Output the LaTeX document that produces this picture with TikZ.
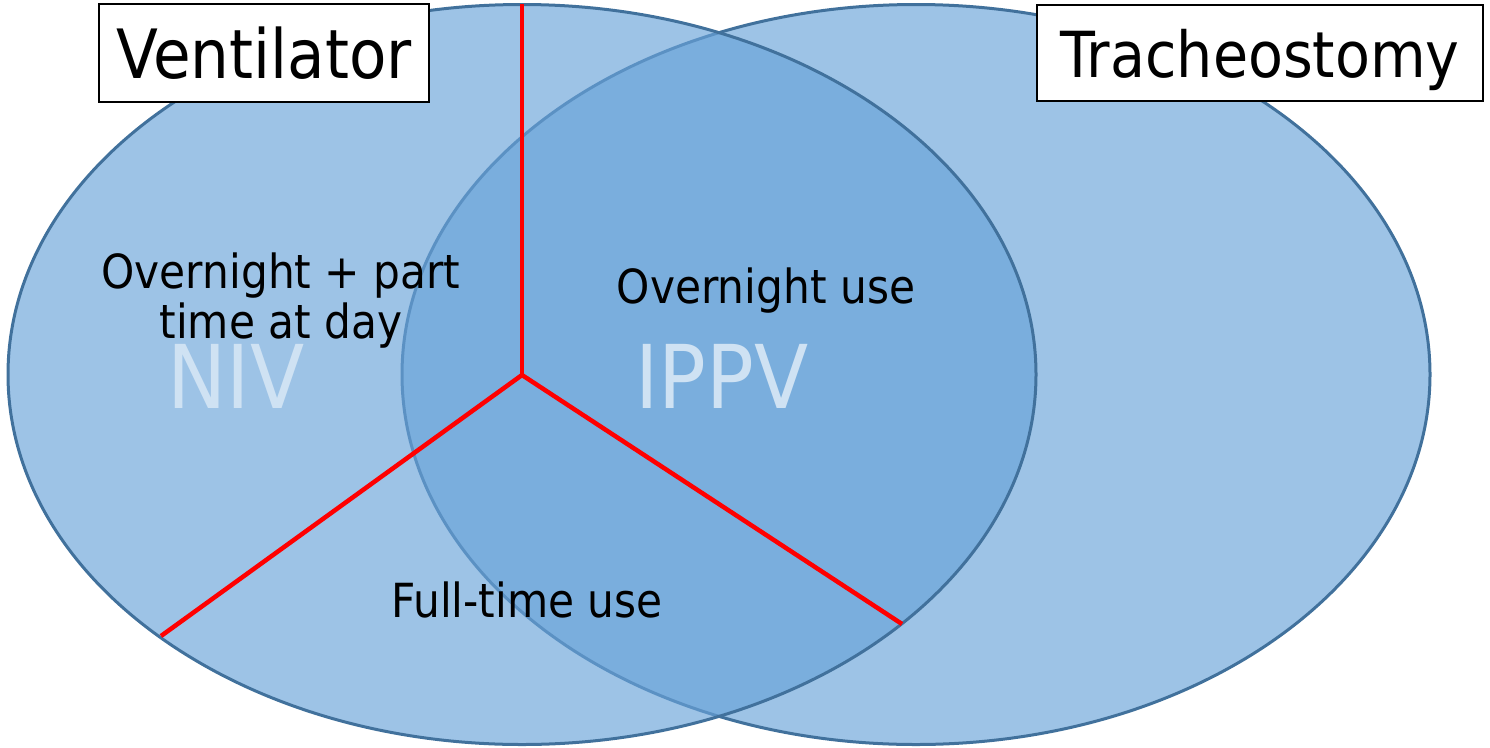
\documentclass[tikz,border=0pt]{standalone}
\usepackage{fontspec}
\setmainfont{DejaVu Sans}[FakeStretch=0.9]
\definecolor{fillA}{RGB}{157,195,230}
\definecolor{fillB}{RGB}{105,163,217}
\definecolor{edge}{RGB}{65,113,156}
\definecolor{ghost}{RGB}{207,226,243}
\tikzset{
  labelbox/.style={draw=black, fill=white, line width=1.5pt, inner sep=0pt, text depth=0pt, font=\fontsize{68}{68}\selectfont},
  bigghost/.style={text=ghost, inner sep=0pt, anchor=base, font=\fontsize{88}{88}\selectfont},
  zonetext/.style={text=black, inner sep=0pt, anchor=base, align=center, font=\fontsize{47}{50}\selectfont},
  divider/.style={red, line width=4.5pt}
}
\begin{document}
\begin{tikzpicture}[x=1pt,y=-1pt]
\useasboundingbox (0,0) rectangle (1490,747);
% Venn circles
\path[fill=fillA, draw=edge, line width=3pt] (916,374.5) ellipse [x radius=514pt, y radius=370pt];
\path[fill=fillB, fill opacity=0.653, draw=edge, line width=3pt] (522,374.5) ellipse [x radius=514pt, y radius=370pt];
% big ghost labels
\node[bigghost] (niv) at (236,408) {NIV};
\node[bigghost] (ippv) at (722,408) {IPPV};
% dividers
\coordinate (hub) at (522,375);
\coordinate (top) at (522,4);
\coordinate (bl) at (161,636);
\coordinate (br) at (902,624);
\draw[divider] (top) -- (hub);
\draw[divider] (hub) -- (bl);
\draw[divider] (hub) -- (br);
% zone texts
\node[zonetext] (part) at (281,338) {Overnight + part\\time at day};
\node[zonetext] (night) at (766,303) {Overnight use};
\node[zonetext] (full) at (527,617) {Full-time use};
% title boxes
\node[labelbox, minimum width=330pt, minimum height=98pt] (vent) at (264,53) {Ventilator};
\node[labelbox, minimum width=446pt, minimum height=96pt, font=\fontsize{63.5}{63.5}\selectfont] (trach) at (1260,53) {Tracheostomy};
\end{tikzpicture}
\end{document}
